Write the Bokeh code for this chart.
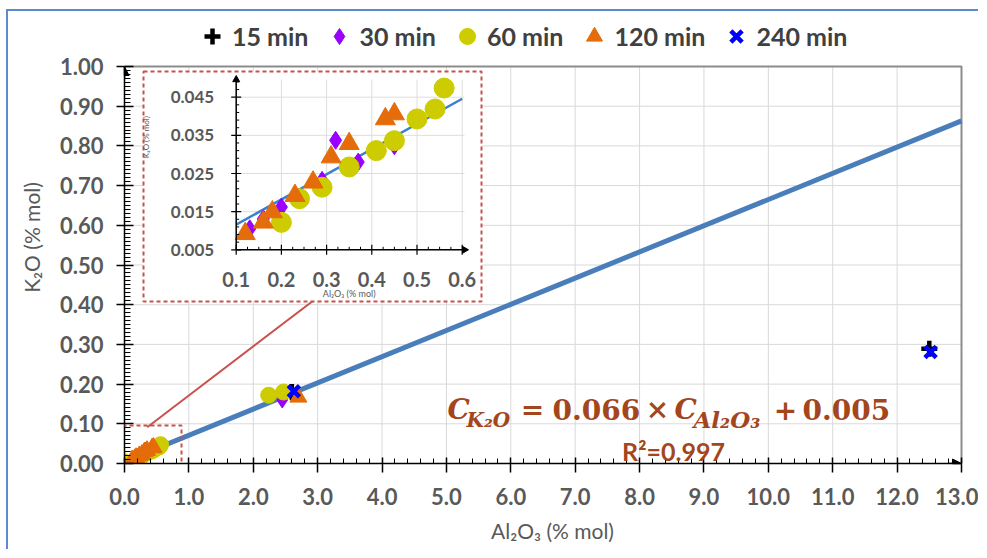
import numpy as np
from bokeh.plotting import figure
from bokeh.models import (Range1d, SingleIntervalTicker, NumeralTickFormatter, Legend, LegendItem,
                          Label, BoxAnnotation, Arrow, NormalHead)
from bokeh.core.properties import value
from bokeh.embed import file_html
from bokeh.resources import INLINE

# ---------------- data ----------------
series_names = ["15 min", "30 min", "60 min", "120 min", "240 min"]
x_15 = [2.60, 12.50]
y_15 = [0.180, 0.289]
x_30 = [0.13, 0.16, 0.20, 0.29, 0.32, 0.37, 0.45, 2.45]
y_30 = [0.0105, 0.0131, 0.0162, 0.0232, 0.0337, 0.0280, 0.0323, 0.160]
x_60 = [0.00, 0.20, 0.24, 0.29, 0.35, 0.41, 0.45, 0.50, 0.54, 0.56, 2.24, 2.47]
y_60 = [0.004, 0.0122, 0.0184, 0.0214, 0.0267, 0.0310, 0.0336, 0.0393, 0.0419, 0.0474, 0.172, 0.180]
x_120 = [0.12, 0.16, 0.18, 0.23, 0.27, 0.31, 0.35, 0.43, 0.45, 2.70]
y_120 = [0.0092, 0.0122, 0.0149, 0.0192, 0.0227, 0.0293, 0.0328, 0.0393, 0.0406, 0.167]
x_240 = [2.63, 12.52]
y_240 = [0.182, 0.281]

fit_slope = 0.066
fit_intercept = 0.005
fit_x = [0.0, 13.0]
inset_fit_x = [0.1, 0.6]

main_x_grid = [1, 2, 3, 4, 5, 6, 7, 8, 9, 10, 11, 12]
main_y_grid = [0.1, 0.2, 0.3, 0.4, 0.5, 0.6, 0.7, 0.8, 0.9]
inset_x_ticks = [0.1, 0.2, 0.3, 0.4, 0.5, 0.6]
inset_x_labels = ["0.1", "0.2", "0.3", "0.4", "0.5", "0.6"]
inset_y_ticks = [0.005, 0.015, 0.025, 0.035, 0.045]
inset_y_labels = ["0.005", "0.015", "0.025", "0.035", "0.045"]

x_title = "Al₂O₃ (% mol)"
y_title = "K₂O (% mol)"
r2_text = "R²=0.997"

# ---------------- styling / layout constants ----------------
FONT = "Lato"
GRAY = "#595959"
BROWN = "#a3461d"
RED = "#c8504d"
FIT = "#4a7ebb"
colors = {"15 min": "#000000", "30 min": "#9900ff", "60 min": "#cccc00",
          "120 min": "#e46c0a", "240 min": "#0000ff"}

# page geometry: outer blue frame (margin + border), canvas origin at (CX, CY)
MX, MY, BW = 6, 9, 2
CX, CY = MX + BW, MY + BW
AX0, AX1, AY0, AY1 = 124.0, 961.0, 463.0, 66.0
FRAME_RIGHT, FRAME_TOP = 980.0, float(CY)
LB, BB = int(AX0 - CX), 88
W = int(FRAME_RIGHT - CX)
H = int(AY0 - CY + BB)
sx = (AX1 - AX0) / 13.0
sy = (AY0 - AY1) / 1.0
x_end = 13.0 + (FRAME_RIGHT - AX1) / sx
y_end = 1.0 + (AY1 - FRAME_TOP) / sy

def dx(px):
    return (px - AX0) / sx
def dy(py):
    return (AY0 - py) / sy

p = figure(width=W, height=H, x_range=Range1d(0, x_end), y_range=Range1d(0, y_end),
           output_backend="svg", toolbar_location=None,
           min_border_left=LB, min_border_right=0, min_border_top=0, min_border_bottom=BB)
p.styles = {"margin-left": f"{MX}px", "margin-top": f"{MY}px",
            "border-left": f"{BW}px solid #5b8bd0", "border-top": f"{BW}px solid #5b8bd0"}
p.background_fill_color = "white"
p.border_fill_color = "white"
p.outline_line_color = None
p.xgrid.visible = False
p.ygrid.visible = False

p.xaxis.ticker = SingleIntervalTicker(interval=1, num_minor_ticks=5)
p.yaxis.ticker = SingleIntervalTicker(interval=0.1, num_minor_ticks=10)
p.xaxis.formatter = NumeralTickFormatter(format="0.0")
p.yaxis.formatter = NumeralTickFormatter(format="0.00")
p.xaxis.bounds = (0, 13)
p.yaxis.bounds = (0, 1)
p.xaxis.axis_label = x_title
p.yaxis.axis_label = y_title
for ax in (p.xaxis[0], p.yaxis[0]):
    ax.axis_line_color = "black"
    ax.axis_line_width = 1.5
    ax.major_tick_line_color = "black"
    ax.major_tick_line_width = 1.5
    ax.minor_tick_line_color = "black"
    ax.minor_tick_line_width = 1
    ax.major_label_text_font = FONT
    ax.major_label_text_font_size = "22px"
    ax.major_label_text_font_style = "bold"
    ax.major_label_text_color = GRAY
    ax.axis_label_text_font = FONT
    ax.axis_label_text_font_size = "21px"
    ax.axis_label_text_font_style = "normal"
    ax.axis_label_text_color = GRAY
p.yaxis.major_tick_in = 9
p.yaxis.major_tick_out = 8
p.yaxis.minor_tick_in = 6
p.yaxis.minor_tick_out = 0
p.xaxis.major_tick_in = 6
p.xaxis.major_tick_out = 9
p.xaxis.minor_tick_in = 5
p.xaxis.minor_tick_out = 0
p.yaxis.major_label_standoff = 13
p.xaxis.major_label_standoff = 15
p.yaxis.axis_label_standoff = 13
p.xaxis.axis_label_standoff = 10

# grid of the plot area and its grey border (top and right)
p.segment(x0=main_x_grid, y0=[0] * len(main_x_grid), x1=main_x_grid, y1=[1.0] * len(main_x_grid),
          line_color="#d9d9d9", line_width=1)
p.segment(x0=[0] * len(main_y_grid), y0=main_y_grid, x1=[13] * len(main_y_grid), y1=main_y_grid,
          line_color="#d9d9d9", line_width=1)
p.line([0, 13, 13], [1.0, 1.0, 0], line_color="#8c8c8c", line_width=2)

# regression line (main)
fx = np.array(fit_x)
p.line(fx, fit_slope * fx + fit_intercept, line_color=FIT, line_width=5)

# connector from zoom box to inset
p.line([dx(146.7), dx(313)], [dy(426.7), dy(300)], line_color=RED, line_width=2)

# inset background box
p.quad(left=[dx(143)], right=[dx(481)], bottom=[dy(301)], top=[dy(71)],
       fill_color="white", line_color=RED, line_width=2, line_dash="4 3")

# ---------------- inset ----------------
ins = p.subplot(x_source=Range1d(0.1, 0.6), y_source=Range1d(0.005, 0.045),
                x_target=Range1d(dx(235.7), dx(461.7)), y_target=Range1d(dy(249.3), dy(96.7)))
ix_right = 0.605
iy_top = 0.0496
ins.segment(x0=inset_x_ticks, y0=[0.005] * 6, x1=inset_x_ticks, y1=[iy_top] * 6,
            line_color="#dedede", line_width=1)
ins.segment(x0=[0.1] * 5, y0=inset_y_ticks, x1=[ix_right] * 5, y1=inset_y_ticks,
            line_color="#dedede", line_width=1)
marker_spec = {"15 min": ("cross", 18), "30 min": ("diamond", 18), "60 min": ("circle", 20),
               "120 min": ("triangle", 20), "240 min": ("x", 18)}
all_series = {"15 min": (x_15, y_15), "30 min": (x_30, y_30), "60 min": (x_60, y_60),
              "120 min": (x_120, y_120), "240 min": (x_240, y_240)}
ifx = np.array(inset_fit_x)
ins.line(ifx, fit_slope * ifx + fit_intercept, line_color="#3a7fd0", line_width=2.5)
for name in series_names:
    xs, ys = np.array(all_series[name][0]), np.array(all_series[name][1])
    m = (xs >= 0.1) & (xs <= 0.6) & (ys <= 0.05)
    if m.sum() == 0:
        continue
    mk, sz = marker_spec[name]
    ins.scatter(xs[m], ys[m], marker=mk, size=sz, fill_color=colors[name],
                line_color=colors[name], line_width=1)
ins.segment(x0=[0.1, 0.1], y0=[0.005, 0.005], x1=[0.1, ix_right], y1=[iy_top, 0.005],
            line_color="black", line_width=1.5)
ins.scatter([0.1], [iy_top], marker="triangle", size=7, color="black")
ins.scatter([ix_right], [0.005], marker="triangle", size=7, angle=-np.pi / 2, color="black")
for ang in (0, np.pi):
    ins.ray(x=[0.1] * 5, y=inset_y_ticks, length=5, angle=ang, length_units="screen",
            line_color="black", line_width=1.2)
for ang in (np.pi / 2, -np.pi / 2):
    ins.ray(x=inset_x_ticks, y=[0.005] * 6, length=5, angle=ang, length_units="screen",
            line_color="black", line_width=1.2)
iy_minor = [v for v in np.arange(0.005, 0.0495, 0.002) if min(abs(v - t) for t in inset_y_ticks) > 1e-6]
ix_minor = [v for v in np.arange(0.1, 0.601, 0.025) if min(abs(v - t) for t in inset_x_ticks) > 1e-6]
ins.ray(x=[0.1] * len(iy_minor), y=iy_minor, length=3, angle=0, length_units="screen", line_color="black")
ins.ray(x=ix_minor, y=[0.005] * len(ix_minor), length=3, angle=np.pi / 2, length_units="screen",
        line_color="black")
ins.text(x=[0.1] * 5, y=inset_y_ticks, text=inset_y_labels, x_offset=-22, text_align="right",
         text_baseline="middle", text_font=value(FONT), text_font_style="bold",
         text_font_size="17px", text_color=GRAY)
ins.text(x=inset_x_ticks, y=[0.005] * 6, text=inset_x_labels, y_offset=30, text_align="center",
         text_baseline="middle", text_font=value(FONT), text_font_style="bold",
         text_font_size="20px", text_color=GRAY)
ins.text(x=[0.35], y=[0.005], text=[x_title], y_offset=44, text_align="center", text_baseline="middle",
         text_font=value(FONT), text_font_size="9px", text_color=GRAY)
ins.text(x=[0.1], y=[0.0345], text=[y_title], x_offset=-90, angle=np.pi / 2, text_align="center",
         text_baseline="middle", text_font=value(FONT), text_font_size="8px", text_color=GRAY)

# ---------------- main scatter series ----------------
main_spec = {"15 min": ("cross", 16, 4.5), "30 min": ("diamond", 16, 1), "60 min": ("circle", 16, 1),
             "120 min": ("triangle", 17, 1), "240 min": ("x", 16, 4.5)}
items = []
for name in series_names:
    xs, ys = all_series[name]
    mk, sz, lw = main_spec[name]
    r = p.scatter(xs, ys, marker=mk, size=sz, fill_color=colors[name], line_color=colors[name], line_width=lw)
    items.append(LegendItem(label=name, renderers=[r]))

legend = Legend(items=items, orientation="horizontal", location=(192 - AX0, AY0 - 56))
legend.glyph_width = 40
legend.glyph_height = 40
legend.label_standoff = 0
legend.spacing = 11
legend.padding = 0
legend.margin = 0
legend.label_text_font = FONT
legend.label_text_font_size = "25px"
legend.label_text_font_style = "bold"
legend.label_text_color = "#404040"
legend.background_fill_alpha = 0
legend.border_line_alpha = 0
p.add_layout(legend)

# zoom box around origin (only its part inside the plot area can be drawn)
p.add_layout(BoxAnnotation(left=dx(108), right=dx(181), bottom=dy(480), top=dy(425),
                           fill_alpha=0, line_color=RED, line_width=2, line_dash="4 3", line_alpha=1))

# axis arrows
p.add_layout(Arrow(end=NormalHead(size=9, fill_color="black", line_color="black"),
                   x_start=0, y_start=0.97, x_end=0, y_end=1.0, line_color="black", line_width=1.5))
p.add_layout(Arrow(end=NormalHead(size=9, fill_color="black", line_color="black"),
                   x_start=12.8, y_start=0, x_end=13.0, y_end=0, line_color="black", line_width=1.5))

# equation
eq_parts = [("C", 447, 409, 28, "bold italic", "left"), ("K₂O", 466, 419, 20, "bold italic", "left"),
            ("=", 532, 409, 28, "bold", "center"), ("0.066", 552, 409, 28, "bold", "left"),
            ("×", 657, 409, 28, "bold", "center"), ("C", 674, 409, 28, "bold italic", "left"),
            ("Al₂O₃", 693, 419, 23, "bold italic", "left"), ("+", 785, 409, 28, "bold", "center"),
            ("0.005", 802, 409, 28, "bold", "left")]
for txt, px, py, fs, st, al in eq_parts:
    p.add_layout(Label(x=dx(px), y=dy(py), text=txt, text_font="DejaVu Serif", text_font_style=st,
                       text_font_size=f"{fs}px", text_color=BROWN, text_baseline="alphabetic",
                       text_align=al))
p.add_layout(Label(x=dx(673), y=dy(450), text=r2_text, text_font=FONT, text_font_style="bold",
                   text_font_size="25px", text_color=BROWN, text_baseline="alphabetic", text_align="center"))

open("out.html", "w").write(file_html(p, INLINE))
